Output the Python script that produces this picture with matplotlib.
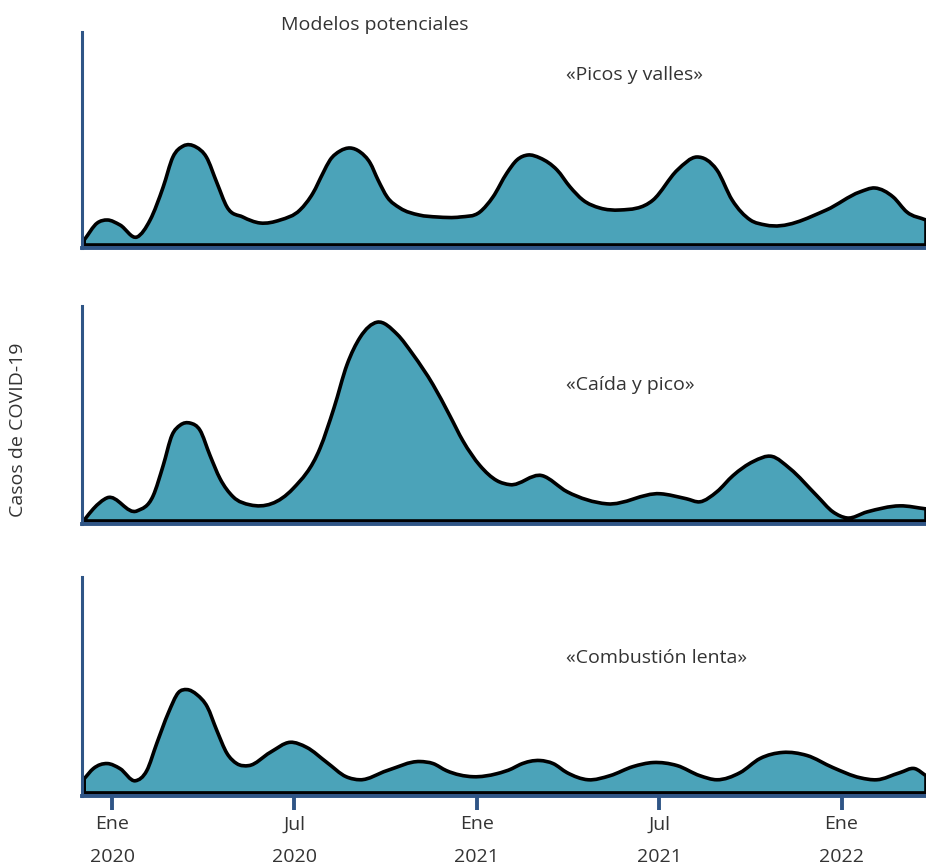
import matplotlib
matplotlib.use("Agg")
import matplotlib.pyplot as plt
import numpy as np
from matplotlib.path import Path
from matplotlib.patches import PathPatch

# months since Ene 2020, relative case levels
picos_x = [-0.92, -0.49, -0.16, 0.26, 0.82, 1.25, 1.68, 2.0, 2.34, 2.76, 3.1, 3.45, 3.78, 4.3,
           4.87, 5.53, 6.18, 6.61, 6.94, 7.17, 7.5, 7.83, 8.16, 8.49, 8.75, 9.05, 9.47, 10.1,
           10.7, 11.45, 12.1, 12.53, 12.99, 13.32, 13.68, 14.08, 14.64, 15.07, 15.49, 16.05,
           16.71, 17.8, 18.6, 19.24, 19.9, 20.4, 21.0, 21.5, 23.5, 24.6, 25.1, 25.7, 26.15, 26.78]
picos_y = [5, 22, 25, 20, 8, 25, 58, 88, 99, 98, 88, 62, 38, 28,
           22, 25, 35, 52, 72, 85, 94, 97, 93, 82, 65, 48, 37, 30,
           28, 28, 33, 48, 72, 85, 90, 87, 75, 58, 45, 37,
           35, 45, 75, 88, 75, 45, 25, 20, 35, 53, 57, 48, 33, 25]

caida_x = [-0.89, -0.62, -0.16, 0.82, 1.35, 1.68, 1.97, 2.24, 2.57, 2.89, 3.22, 3.55, 3.98, 4.54,
           5.95, 6.84, 7.3, 7.73, 8.16, 8.72, 9.38, 9.9, 10.56, 11.1, 11.55, 12.1, 12.66, 13.09,
           14.14, 14.97, 16.28, 18.03, 18.9, 19.34, 19.9, 20.43, 21.1, 21.71, 22.3, 23.19, 23.72,
           24.18, 24.84, 25.92, 26.78]
caida_y = [2, 12, 23, 10, 25, 55, 85, 95, 97, 90, 65, 42, 24, 16,
           32, 72, 112, 155, 182, 197, 185, 165, 135, 105, 79, 55, 40, 36,
           45, 29, 17, 27, 22, 19, 29, 45, 59, 64, 52, 25, 9,
           3, 9, 15, 12]

lenta_x = [-0.92, -0.62, -0.16, 0.26, 0.76, 1.14, 1.47, 1.85, 2.18, 2.46, 2.79, 3.13, 3.44, 3.78,
           4.1, 4.5, 5.2, 5.86, 6.4, 7.07, 7.7, 8.16, 9.04, 10.13, 10.56, 11.0, 11.88, 12.66,
           13.16, 13.42, 14.08, 14.51, 14.97, 15.66, 16.38, 17.14, 17.8, 18.59, 19.34, 19.9,
           20.66, 21.32, 22.07, 22.86, 23.72, 24.61, 25.16, 25.92, 26.41, 26.78]
lenta_y = [14, 24, 29, 24, 12, 22, 49, 79, 99, 102, 97, 85, 62, 39,
           29, 27, 40, 50, 45, 30, 16, 13, 22, 31, 29, 22, 16, 19,
           24, 28, 32, 29, 20, 13, 17, 26, 30, 27, 17, 13,
           20, 34, 40, 37, 25, 15, 13, 20, 24, 17]

labels = ["«Picos y valles»", "«Caída y pico»", "«Combustión lenta»"]
tick_pos = [0, 6, 12, 18, 24]
tick_months = ["Ene", "Jul", "Ene", "Jul", "Ene"]
tick_years = ["2020", "2020", "2021", "2021", "2022"]

fill_col = "#4ba3b9"
spine_col = "#2f5586"
text_col = "#333333"
plt.rcParams["font.family"] = ["Open Sans", "DejaVu Sans"]


def smooth_area(xs, ys):
    # cubic hermite through the points (3-point slopes for uneven spacing),
    # drawn as bezier segments
    x = np.asarray(xs, float)
    y = np.asarray(ys, float)
    n = len(x)
    h = np.diff(x)
    s = np.diff(y) / h
    m = np.zeros(n)
    m[1:-1] = (h[1:] * s[:-1] + h[:-1] * s[1:]) / (h[:-1] + h[1:])
    m[0] = s[0]
    m[-1] = s[-1]
    verts = [(x[0], 0), (x[0], y[0])]
    codes = [Path.MOVETO, Path.LINETO]
    for i in range(n - 1):
        d = h[i] / 3
        verts += [(x[i] + d, y[i] + m[i] * d),
                  (x[i + 1] - d, y[i + 1] - m[i + 1] * d),
                  (x[i + 1], y[i + 1])]
        codes += [Path.CURVE4] * 3
    verts += [(x[-1], 0), (x[0], 0)]
    codes += [Path.LINETO, Path.CLOSEPOLY]
    return Path(verts, codes)


fig = plt.figure(figsize=(9.26, 8.65), dpi=100)
boxes = [[0.0886, 0.7133, 0.9114, 0.2497],
         [0.0886, 0.3942, 0.9114, 0.2520],
         [0.0886, 0.0798, 0.9114, 0.2530]]
series = [(picos_x, picos_y), (caida_x, caida_y), (lenta_x, lenta_y)]
label_y = [0.80, 0.64, 0.63]

for i, (box, (xs, ys)) in enumerate(zip(boxes, series)):
    ax = fig.add_axes(box)
    patch = PathPatch(smooth_area(xs, ys), facecolor=fill_col, edgecolor="black",
                      linewidth=2.6, joinstyle="round")
    ax.add_patch(patch)
    ax.set_xlim(-0.99, 26.78)
    ax.set_ylim(-3, 213)
    for s in ["top", "right"]:
        ax.spines[s].set_visible(False)
    ax.spines["left"].set_color(spine_col)
    ax.spines["left"].set_linewidth(2.2)
    ax.spines["bottom"].set_color(spine_col)
    ax.spines["bottom"].set_linewidth(2.8)
    ax.set_yticks([])
    ax.text(0.574, label_y[i], labels[i], transform=ax.transAxes, fontsize=14,
            color=text_col, va="center")
    if i == 2:
        ax.set_xticks(tick_pos)
        ax.set_xticklabels(tick_months, fontsize=14, color=text_col)
        ax.tick_params(axis="x", length=10, width=2.8, color=spine_col, pad=4)
        for t, yr in zip(tick_pos, tick_years):
            ax.annotate(yr, xy=(t, 0), xycoords=("data", "axes fraction"),
                        xytext=(0, -44), textcoords="offset points",
                        ha="center", va="center", fontsize=14, color=text_col)
    else:
        ax.set_xticks([])

fig.text(0.405, 0.971, "Modelos potenciales", fontsize=14,
         color=text_col, ha="center", va="center")
fig.text(0.019, 0.503, "Casos de COVID-19", fontsize=14, color=text_col, rotation=90,
         ha="center", va="center")

fig.savefig("out.png", dpi=100)
